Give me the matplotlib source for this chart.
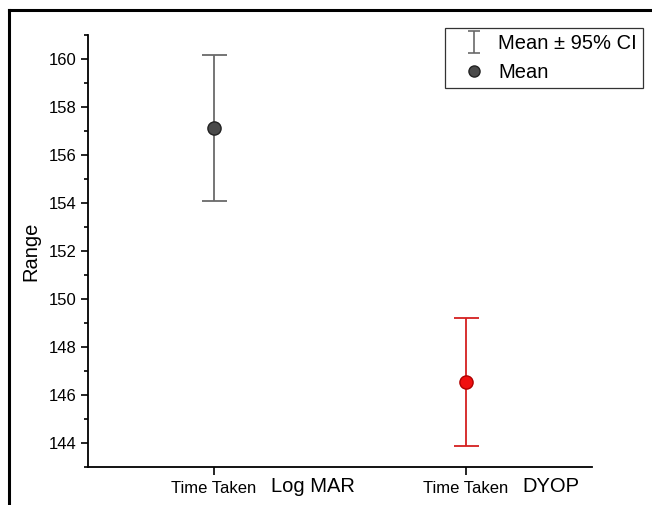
import matplotlib
matplotlib.use("Agg")
import matplotlib.pyplot as plt
from matplotlib.lines import Line2D
from matplotlib.path import Path
from matplotlib.ticker import MultipleLocator

plt.rcParams['font.family'] = ['Liberation Sans', 'DejaVu Sans']

groups = ["Log MAR", "DYOP"]
tick_labels = ["Time Taken", "Time Taken"]
means = [157.12, 146.55]
ci_low = [154.08, 143.87]
ci_high = [160.17, 149.21]
colors = ["#4a4a4a", "#f01010"]
edge_colors = ["#222222", "#b00000"]
line_colors = ["#6a6a6a", "#d42020"]

fig = plt.figure(figsize=(6.52, 5.05), dpi=100)
W, H = 652, 505
ax = fig.add_axes([88 / W, 1 - 467 / H, (592 - 88) / W, (467 - 35) / H])

xs = [1, 2]
for x, m, lo, hi, c, ec, lc in zip(xs, means, ci_low, ci_high, colors, edge_colors, line_colors):
    ax.errorbar([x], [m], yerr=[[m - lo], [hi - m]], fmt='none', ecolor=lc,
                elinewidth=1.3, capsize=9, capthick=1.3, zorder=2)
    ax.plot([x], [m], 'o', markersize=9.5, markerfacecolor=c, markeredgecolor=ec,
            markeredgewidth=1.0, zorder=3)

ax.set_xlim(0.5, 2.5)
ax.set_ylim(143, 161)
ax.set_xticks(xs)
ax.set_xticklabels(tick_labels, fontsize=12)
ax.yaxis.set_major_locator(MultipleLocator(2))
ax.yaxis.set_minor_locator(MultipleLocator(1))
ax.tick_params(axis='y', which='major', direction='out', length=5, width=1.2, labelsize=12, pad=3)
ax.tick_params(axis='y', which='minor', direction='out', length=3, width=1.2)
ax.tick_params(axis='x', which='major', direction='out', length=6, width=1.2, pad=4)
for s in ['top', 'right']:
    ax.spines[s].set_visible(False)
for s in ['left', 'bottom']:
    ax.spines[s].set_linewidth(1.3)
ax.set_ylabel("Range", fontsize=14.5, labelpad=6)

for x, g in zip(xs, groups):
    ax.text(x + 0.225, -0.024, g, transform=ax.get_xaxis_transform(), fontsize=14.5,
            ha='left', va='top')

# legend
ibeam = Path([(-0.55, 1), (0.55, 1), (0, 1), (0, -1), (-0.55, -1), (0.55, -1)],
             [Path.MOVETO, Path.LINETO, Path.MOVETO, Path.LINETO, Path.MOVETO, Path.LINETO])
eb = Line2D([], [], marker=ibeam, linestyle='none', markersize=16,
            markerfacecolor='none', markeredgecolor="#6a6a6a", markeredgewidth=1.2)
mk = Line2D([], [], marker='o', linestyle='none', markersize=8,
            markerfacecolor="#4a4a4a", markeredgecolor="#222222")
leg = fig.legend([eb, mk], ["Mean ± 95% CI", "Mean"], loc='upper right',
                 bbox_to_anchor=(643 / W, 1 - 28 / H), fontsize=14.5, frameon=True,
                 fancybox=False, edgecolor='black', borderpad=0.3, labelspacing=0.5,
                 handletextpad=0.05, handlelength=2.3, borderaxespad=0)
leg.get_frame().set_linewidth(0.9)

# outer frame (top and left lines)
fig.add_artist(Line2D([9 / W, 1], [1 - 10 / H, 1 - 10 / H], color='black', linewidth=2.2))
fig.add_artist(Line2D([9 / W, 9 / W], [0, 1 - 10 / H], color='black', linewidth=2.2))

fig.savefig("out.png", dpi=100)
